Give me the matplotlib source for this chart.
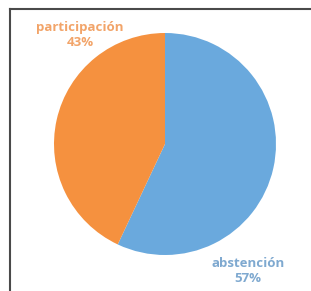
import matplotlib
matplotlib.use("Agg")
import matplotlib.pyplot as plt
from matplotlib.lines import Line2D

labels = ["abstención", "participación"]
values = [57, 43]
colors = ["#6AA9DD", "#F5913F"]
text_colors = ["#7FA9D0", "#F2A469"]

W, H = 311, 291
fig = plt.figure(figsize=(W/100, H/100), dpi=100)
fig.patch.set_facecolor("white")

cx, cy, r = 165, 144, 111
ax = fig.add_axes([(cx - r)/W, (H - cy - r)/H, 2*r/W, 2*r/H])
ax.pie(values, colors=colors, startangle=90, counterclock=False,
       wedgeprops=dict(linewidth=0))
ax.set_aspect("equal")
ax.set_xlim(-1, 1)
ax.set_ylim(-1, 1)
ax.axis("off")

fig.text(80/W, 1 - 35/H, f"{labels[1]}\n{values[1]}%", ha="center", va="center",
         fontsize=9.5, fontweight="bold", color=text_colors[1], family="Open Sans",
         linespacing=1.25)
fig.text(248/W, 1 - 271/H, f"{labels[0]}\n{values[0]}%", ha="center", va="center",
         fontsize=9.5, fontweight="bold", color=text_colors[0], family="Open Sans",
         linespacing=1.25)

fig.add_artist(Line2D([10/W, 1], [1 - 9/H, 1 - 9/H], transform=fig.transFigure,
                      color="#4a4a4a", linewidth=1.5))
fig.add_artist(Line2D([10/W, 10/W], [0, 1 - 9/H], transform=fig.transFigure,
                      color="#4a4a4a", linewidth=1.5))

fig.savefig("out.png", dpi=100)
